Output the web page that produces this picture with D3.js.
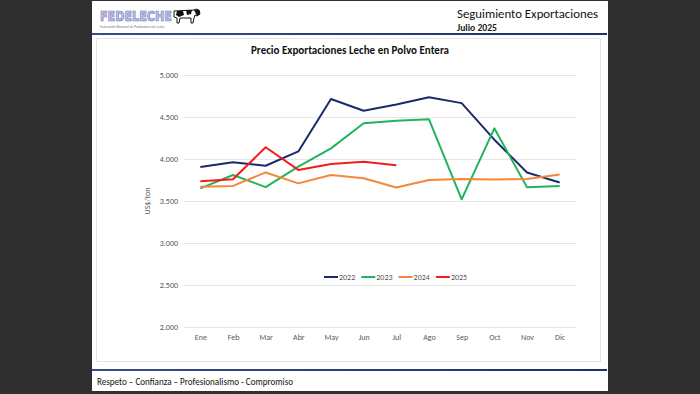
<!DOCTYPE html>
<html>
<head>
<meta charset="utf-8">
<script src="https://cdn.jsdelivr.net/npm/d3@7"></script>
<style>
  html, body { margin: 0; padding: 0; background: #2f2f2f; }
  svg { display: block; }
</style>
</head>
<body>
<svg id="chart" width="700" height="394"></svg>
<script>
const months = ["Ene","Feb","Mar","Abr","May","Jun","Jul","Ago","Sep","Oct","Nov","Dic"];
const years = ["2022","2023","2024","2025"];
const s2022 = [3905, 3960, 3920, 4090, 4715, 4575, 4650, 4735, 4665, 4230, 3840, 3720];
const s2023 = [3650, 3810, 3665, 3910, 4127, 4425, 4455, 4473, 3520, 4365, 3665, 3680];
const s2024 = [3670, 3680, 3840, 3710, 3810, 3770, 3660, 3750, 3762, 3755, 3762, 3815];
const s2025 = [3735, 3758, 4140, 3870, 3940, 3968, 3925];
const yTicks = [2000, 2500, 3000, 3500, 4000, 4500, 5000];
const colors = ["#1b2a6b", "#22b35e", "#f4873a", "#f21c1c"];
const seriesList = [s2022, s2023, s2024, s2025];

const svg = d3.select("#chart");
const font = "Carlito, 'Liberation Sans', Arial, sans-serif";

// slide background
svg.append("rect").attr("x", 92).attr("y", 1).attr("width", 516).attr("height", 390).attr("fill", "#ffffff");

// header line
const grad = svg.append("defs").append("linearGradient").attr("id", "hl");
grad.append("stop").attr("offset", "0%").attr("stop-color", "#3a4a8c");
grad.append("stop").attr("offset", "100%").attr("stop-color", "#1f2f6e");
svg.append("rect").attr("x", 92).attr("y", 33).attr("width", 515).attr("height", 2).attr("fill", "url(#hl)");
svg.append("rect").attr("x", 92).attr("y", 369).attr("width", 515).attr("height", 2).attr("fill", "url(#hl)");

// logo
const logo = svg.append("g");
logo.append("text").attr("x", 100).attr("y", 21).text("FEDELECHE")
  .attr("font-family", "'DejaVu Sans', sans-serif").attr("font-weight", "bold").attr("font-size", 14)
  .attr("textLength", 72).attr("lengthAdjust", "spacingAndGlyphs")
  .attr("fill", "#c3c5e6").attr("stroke", "#7276b8").attr("stroke-width", 0.7);
logo.append("text").attr("x", 100).attr("y", 28).text("Federación Nacional de Productores de Leche")
  .attr("font-family", font).attr("font-size", 3.5).attr("fill", "#777");
// cow
const cow = logo.append("g").attr("transform", "translate(172,6)");
cow.append("path").attr("d", "M2,5 L22,4 L24,3 L27,4 L28,8 L25,10 L23,9 L22,12 L21,17 L19,17 L19,12 L8,12 L7,17 L5,17 L5,12 L2,11 Z")
  .attr("fill", "#ffffff").attr("stroke", "#111").attr("stroke-width", 1);
cow.append("path").attr("d", "M5,5 L11,5 L12,9 L7,11 L4,9 Z").attr("fill", "#111");
cow.append("path").attr("d", "M14,4 L20,4 L19,8 L15,9 Z").attr("fill", "#111");
cow.append("path").attr("d", "M22,4 L27,4 L28,8 L25,10 Z").attr("fill", "#111");

// header texts
svg.append("text").attr("x", 457).attr("y", 18).text("Seguimiento Exportaciones")
  .attr("font-family", font).attr("font-size", 13).attr("fill", "#111")
  .attr("textLength", 141).attr("lengthAdjust", "spacingAndGlyphs");
svg.append("text").attr("x", 457).attr("y", 31).text("Julio 2025")
  .attr("font-family", font).attr("font-size", 9.5).attr("font-weight", "600").attr("fill", "#222")
  .attr("textLength", 40).attr("lengthAdjust", "spacingAndGlyphs");

// footer text
svg.append("text").attr("x", 97).attr("y", 385).text("Respeto – Confianza – Profesionalismo - Compromiso")
  .attr("font-family", font).attr("font-size", 10.5).attr("fill", "#111")
  .attr("textLength", 196).attr("lengthAdjust", "spacingAndGlyphs");

// chart frame
svg.append("rect").attr("x", 96.5).attr("y", 38.5).attr("width", 504).attr("height", 323)
  .attr("fill", "none").attr("stroke", "#e4e4e4").attr("stroke-width", 1);

// title
svg.append("text").attr("x", 350).attr("y", 54).attr("text-anchor", "middle")
  .text("Precio Exportaciones Leche en Polvo Entera")
  .attr("font-family", font).attr("font-size", 12).attr("font-weight", "bold").attr("fill", "#111")
  .attr("textLength", 198).attr("lengthAdjust", "spacingAndGlyphs");

// scales
const x = d3.scalePoint().domain(months).range([184, 576]).padding(0.5);
const y = d3.scaleLinear().domain([2000, 5000]).range([327, 75]);
const loc = d3.formatLocale({decimal: ",", thousands: ".", grouping: [3], currency: ["$", ""]});
const fmt = loc.format(",");

// gridlines
const yAxis = d3.axisLeft(y).tickValues(yTicks).tickFormat(fmt).tickSize(-(576 - 184)).tickPadding(6);
const gy = svg.append("g").attr("transform", "translate(184,0)").call(yAxis);
gy.select(".domain").remove();
gy.selectAll(".tick line").attr("stroke", "#e6e6e6").attr("stroke-width", 1);
gy.selectAll(".tick text").attr("fill", "#595959").attr("font-family", font).attr("font-size", 8);

const xAxis = d3.axisBottom(x).tickSize(0).tickPadding(7);
const gx = svg.append("g").attr("transform", "translate(0,327)").call(xAxis);
gx.select(".domain").remove();
gx.selectAll(".tick text").attr("fill", "#595959").attr("font-family", font).attr("font-size", 8);

// y title
svg.append("text").attr("transform", "translate(150,201) rotate(-90)").attr("text-anchor", "middle")
  .text("US$/ton").attr("font-family", font).attr("font-size", 8).attr("fill", "#595959");

// lines
const line = d3.line().x((d, i) => x(months[i])).y(d => y(d));
seriesList.forEach((s, k) => {
  svg.append("path").datum(s).attr("d", line)
    .attr("fill", "none").attr("stroke", colors[k]).attr("stroke-width", 2)
    .attr("stroke-linejoin", "round");
});

// legend
const lg = svg.append("g").attr("transform", "translate(324,277)");
years.forEach((yr, k) => {
  const g = lg.append("g").attr("transform", `translate(${k * 37.3},0)`);
  g.append("line").attr("x1", 0).attr("x2", 14).attr("y1", 0).attr("y2", 0)
    .attr("stroke", colors[k]).attr("stroke-width", 2);
  g.append("text").attr("x", 15).attr("y", 3).text(yr)
    .attr("font-family", font).attr("font-size", 8).attr("fill", "#595959");
});
</script>
</body>
</html>
